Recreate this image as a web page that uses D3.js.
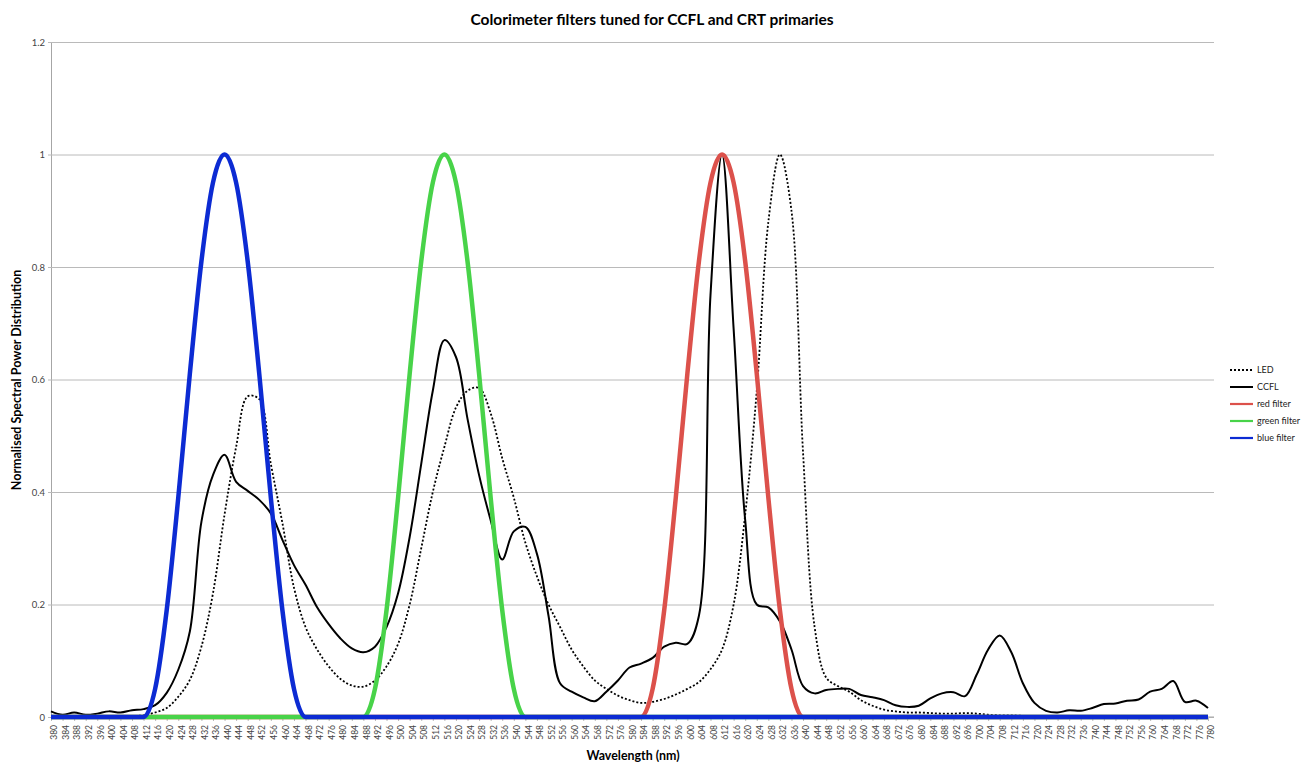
<!DOCTYPE html>
<html>
<head>
	<meta charset="UTF-8" />
	<title>colorimeter filters</title>
	<script src="https://d3js.org/d3.v7.min.js"></script>
	<style>
		body { margin: 0; background: #fff; }
		text { font-family: Lato, "Noto Sans", sans-serif; }
	</style>
</head>
<body>
	<svg id="chart" style="width:1310px; height:762px"></svg>

	<script type="text/javascript">
	// categories (nm) and y ticks
	var wavelengths = d3.range(380, 781, 4)
	var yTicks = [0, 0.2, 0.4, 0.6, 0.8, 1, 1.2]

	// series, one value per 4 nm
	var led = [
		.002,.002,.002,.002,.002,.002,.002,.002,.003,.008,
		.016,.036,.066,.125,.22,.36,.48,.57,.565,.45,
		.345,.23,.16,.12,.09,.068,.056,.054,.065,.09,
		.13,.2,.3,.4,.48,.55,.58,.585,.54,.46,
		.39,.31,.25,.2,.16,.12,.09,.065,.05,.038,
		.03,.025,.027,.032,.04,.05,.062,.085,.12,.2,
		.36,.58,.88,1.0,.9,.47,.16,.07,.055,.045,
		.03,.02,.013,.01,.008,.008,.007,.006,.006,.007,
		.006,.004,.003,.003,.002,.001,.001,.001,.001,.001,
		.001,.001,.001,.001,.001,.001,.001,.001,.001,.001,
		.001]
	var ccfl = [
		.010,.004,.008,.004,.006,.010,.008,.012,.014,.021,
		.043,.084,.152,.347,.43,.466,.418,.402,.386,.362,
		.315,.27,.235,.195,.165,.14,.122,.115,.125,.16,
		.22,.32,.45,.58,.67,.64,.53,.43,.35,.28,
		.33,.338,.29,.18,.06,.045,.035,.028,.045,.065,
		.088,.095,.105,.125,.132,.13,.18,.75,1.0,.69,
		.35,.2,.195,.17,.12,.055,.042,.048,.05,.05,
		.039,.035,.03,.021,.018,.02,.033,.042,.044,.037,
		.075,.12,.145,.115,.06,.025,.011,.008,.012,.011,
		.016,.023,.024,.029,.031,.045,.05,.064,.027,.029,
		.016]
	var redFilter = [
		0,0,0,0,0,0,0,0,0,0,
		0,0,0,0,0,0,0,0,0,0,
		0,0,0,0,0,0,0,0,0,0,
		0,0,0,0,0,0,0,0,0,0,
		0,0,0,0,0,0,0,0,0,0,
		0,0,.05,.19,.39,.61,.81,.95,1,.95,
		.81,.61,.39,.19,.05,0,0,0,0,0,
		0,0,0,0,0,0,0,0,0,0,
		0,0,0,0,0,0,0,0,0,0,
		0,0,0,0,0,0,0,0,0,0,
		0]
	var greenFilter = [
		0,0,0,0,0,0,0,0,0,0,
		0,0,0,0,0,0,0,0,0,0,
		0,0,0,0,0,0,0,0,.05,.19,
		.39,.61,.81,.95,1,.95,.81,.61,.39,.19,
		.05,0,0,0,0,0,0,0,0,0,
		0,0,0,0,0,0,0,0,0,0,
		0,0,0,0,0,0,0,0,0,0,
		0,0,0,0,0,0,0,0,0,0,
		0,0,0,0,0,0,0,0,0,0,
		0,0,0,0,0,0,0,0,0,0,
		0]
	var blueFilter = [
		0,0,0,0,0,0,0,0,0,.05,
		.19,.39,.61,.81,.95,1,.95,.81,.61,.39,
		.19,.05,0,0,0,0,0,0,0,0,
		0,0,0,0,0,0,0,0,0,0,
		0,0,0,0,0,0,0,0,0,0,
		0,0,0,0,0,0,0,0,0,0,
		0,0,0,0,0,0,0,0,0,0,
		0,0,0,0,0,0,0,0,0,0,
		0,0,0,0,0,0,0,0,0,0,
		0,0,0,0,0,0,0,0,0,0,
		0]

	var seriesNames = ["LED", "CCFL", "red filter", "green filter", "blue filter"]
	var seriesData = [led, ccfl, redFilter, greenFilter, blueFilter]
	var seriesColors = ["#000000", "#000000", "#dc514b", "#48d349", "#0c2bd3"]
	var seriesWidths = [1.8, 2, 4.5, 4.5, 4.5]
	var seriesDash = ["2,2", null, null, null, null]
	// spectra smoothed like the spreadsheet, filters kept from dipping under 0
	var seriesCurves = [d3.curveCatmullRom, d3.curveCatmullRom, d3.curveMonotoneX, d3.curveMonotoneX, d3.curveMonotoneX]

	var plotLeft = 51, plotRight = 1214, plotTop = 42, plotBottom = 717

	var svg = d3.select("#chart")

	var x = d3.scalePoint()
		.domain(wavelengths)
		.range([plotLeft, 1208])

	var y = d3.scaleLinear()
		.domain([0, 1.2])
		.range([plotBottom, plotTop])

	// gridlines + y labels
	var yAxis = svg.append("g")
		.attr("transform", "translate(" + plotLeft + ",0)")
		.call(d3.axisLeft(y).tickValues(yTicks).tickSize(-(plotRight - plotLeft)).tickSizeOuter(0)
			.tickFormat(d3.format("~g")).tickPadding(6))
	yAxis.select(".domain").attr("stroke", "#a6a6a6")
	yAxis.selectAll(".tick line").attr("stroke", "#bababa").attr("x1", -3)
	yAxis.selectAll(".tick text").attr("fill", "#444").style("font-size", "9.5px")

	// x axis
	var xAxis = svg.append("g")
		.attr("transform", "translate(0," + plotBottom + ")")
		.call(d3.axisBottom(x).tickSize(4).tickSizeOuter(0))
	xAxis.select(".domain").attr("stroke", "#a6a6a6").attr("d", "M" + plotLeft + ",0H" + plotRight)
	xAxis.selectAll(".tick line").attr("stroke", "#bababa")
	xAxis.selectAll(".tick text")
		.attr("fill", "#444")
		.style("font-size", "8.5px")
		.attr("text-anchor", "end")
		.attr("transform", "translate(3,8) rotate(-90)")
		.attr("x", 0).attr("y", 0).attr("dy", "0.32em")

	// lines
	svg.selectAll(".series")
		.data(seriesData)
		.enter()
		.append("path")
		.attr("class", "series")
		.attr("d", (d, i) => d3.line()
			.x((v, j) => x(wavelengths[j]))
			.y(v => y(v))
			.curve(seriesCurves[i])(d))
		.attr("fill", "none")
		.attr("stroke", (d, i) => seriesColors[i])
		.attr("stroke-width", (d, i) => seriesWidths[i])
		.attr("stroke-dasharray", (d, i) => seriesDash[i])
		.attr("stroke-linejoin", "round")

	// titles
	svg.append("text")
		.attr("x", 652).attr("y", 25)
		.attr("text-anchor", "middle")
		.style("font-size", "15.5px").style("font-weight", "bold")
		.text("Colorimeter filters tuned for CCFL and CRT primaries")

	svg.append("text")
		.attr("x", 633).attr("y", 760)
		.attr("text-anchor", "middle")
		.style("font-size", "12.4px").style("font-weight", "bold")
		.text("Wavelength (nm)")

	svg.append("text")
		.attr("transform", "translate(21,380) rotate(-90)")
		.attr("text-anchor", "middle")
		.style("font-size", "12.5px").style("font-weight", "bold")
		.text("Normalised Spectral Power Distribution")

	// legend
	var legend = svg.selectAll(".legend")
		.data(seriesNames)
		.enter()
		.append("g")
		.attr("class", "legend")
		.attr("transform", (d, i) => "translate(1230," + (370 + i * 17) + ")")
	legend.append("line")
		.attr("x1", 0).attr("x2", 23)
		.attr("stroke", (d, i) => seriesColors[i])
		.attr("stroke-width", (d, i) => i < 2 ? 2 : 2.2)
		.attr("stroke-dasharray", (d, i) => seriesDash[i])
	legend.append("text")
		.attr("x", 27).attr("dy", "0.35em")
		.style("font-size", "9px").attr("fill", "#222")
		.text(d => d)
	</script>
</body>
</html>
